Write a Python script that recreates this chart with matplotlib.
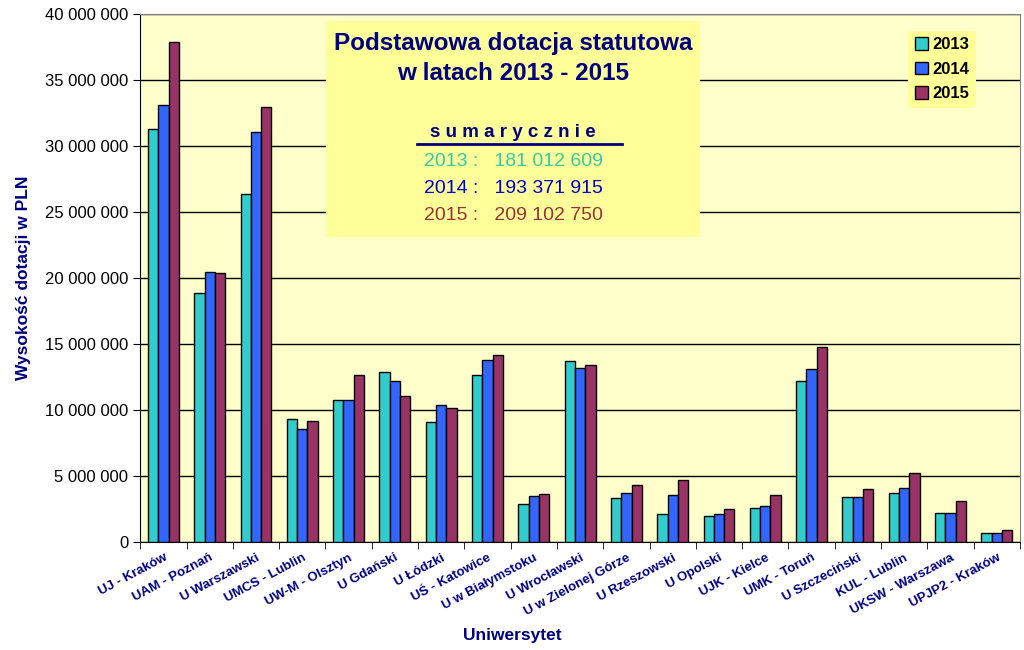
import matplotlib.pyplot as plt
import numpy as np
from matplotlib.ticker import FuncFormatter, MultipleLocator

plt.rcParams['font.family'] = ['Liberation Sans', 'DejaVu Sans']

universities = ['UJ - Kraków', 'UAM - Poznań', 'U Warszawski', 'UMCS - Lublin',
                'UW-M - Olsztyn', 'U Gdański', 'U Łódzki', 'UŚ - Katowice',
                'U w Białymstoku', 'U Wrocławski', 'U w Zielonej Górze',
                'U Rzeszowski', 'U Opolski', 'UJK - Kielce', 'UMK - Toruń',
                'U Szczeciński', 'KUL - Lublin', 'UKSW - Warszawa', 'UPJP2 - Kraków']
years = ['2013', '2014', '2015']
v2013 = [31.3, 18.9, 26.4, 9.3, 10.8, 12.9, 9.1, 12.7, 2.9, 13.7, 3.35,
         2.1, 2.0, 2.6, 12.2, 3.4, 3.7, 2.2, 0.7]
v2014 = [33.1, 20.45, 31.1, 8.6, 10.8, 12.2, 10.4, 13.8, 3.5, 13.2, 3.7,
         3.6, 2.1, 2.7, 13.1, 3.4, 4.1, 2.2, 0.7]
v2015 = [37.9, 20.4, 32.95, 9.15, 12.7, 11.05, 10.15, 14.2, 3.65, 13.4, 4.3,
         4.7, 2.5, 3.6, 14.8, 4.0, 5.25, 3.1, 0.9]
totals = ['181 012 609', '193 371 915', '209 102 750']

colors = ['#33CCCC', '#3366FF', '#993366']
text_colors = ['#33CCAA', '#0000CC', '#993333']
navy = '#000080'

fig = plt.figure(figsize=(10.24, 6.5), dpi=100)
ax = fig.add_axes([0.137, 0.166, 0.859, 0.812])
ax.set_facecolor('#FFFFCC')

x = np.arange(len(universities))
w = 0.222
for i, (vals, c, y) in enumerate(zip([v2013, v2014, v2015], colors, years)):
    ax.bar(x + (i - 1) * w, np.array(vals) * 1e6, width=w, color=c,
           edgecolor='black', linewidth=1, label=y, zorder=3)

ax.set_xlim(-0.5, len(universities) - 0.5)
ax.set_ylim(0, 40e6)
ax.yaxis.set_major_locator(MultipleLocator(5e6))
ax.yaxis.set_major_formatter(FuncFormatter(lambda v, p: f'{int(v):,}'.replace(',', ' ')))
ax.grid(axis='y', color='black', linewidth=1, zorder=1)
ax.tick_params(axis='y', labelsize=12, direction='out', length=5)

ax.set_xticks(x)
ax.set_xticklabels(universities, rotation=28, ha='right', rotation_mode='anchor',
                   fontsize=9.5, fontweight='bold', color=navy)
ax.tick_params(axis='x', length=0, pad=7)
ax.set_xticks(np.arange(-0.5, len(universities)), minor=True)
ax.tick_params(axis='x', which='minor', length=5, direction='out')

for s in ['top', 'right']:
    ax.spines[s].set_color('#808080')

ax.set_ylabel('Wysokość dotacji w PLN', fontsize=12.5, fontweight='bold', color=navy, labelpad=10)
fig.text(0.5, 0.016, 'Uniwersytet', fontsize=12.5, fontweight='bold', color=navy, ha='center')

# title box
box = fig.add_axes([0.318, 0.635, 0.366, 0.332])
box.set_facecolor('#FFFF99')
box.set_xticks([])
box.set_yticks([])
for s in box.spines.values():
    s.set_visible(False)
box.text(0.5, 0.95, 'Podstawowa dotacja statutowa\nw latach 2013 - 2015', ha='center', va='top',
         fontsize=17.5, fontweight='bold', color=navy, linespacing=1.4, transform=box.transAxes)
box.text(0.5, 0.445, 's u m a r y c z n i e', ha='center', va='bottom', fontsize=13.5,
         fontweight='bold', color=navy, transform=box.transAxes)
box.plot([0.245, 0.79], [0.43, 0.43], color=navy, linewidth=2, transform=box.transAxes)
for i, (y, t, c) in enumerate(zip(years, totals, text_colors)):
    box.text(0.5, 0.35 - i * 0.125, f'{y} :   {t}', ha='center', va='center', fontsize=14,
             color=c, transform=box.transAxes)

leg = ax.legend(loc='upper right', bbox_to_anchor=(0.96, 0.985), frameon=True,
                fontsize=12, handlelength=0.8, handleheight=0.8, handletextpad=0.3,
                borderpad=0.4, labelspacing=0.55)
leg.get_frame().set_facecolor('#FFFF99')
leg.get_frame().set_edgecolor('none')
leg.get_frame().set_alpha(1)
for t in leg.get_texts():
    t.set_fontweight('bold')

fig.savefig('out.png', dpi=100)
